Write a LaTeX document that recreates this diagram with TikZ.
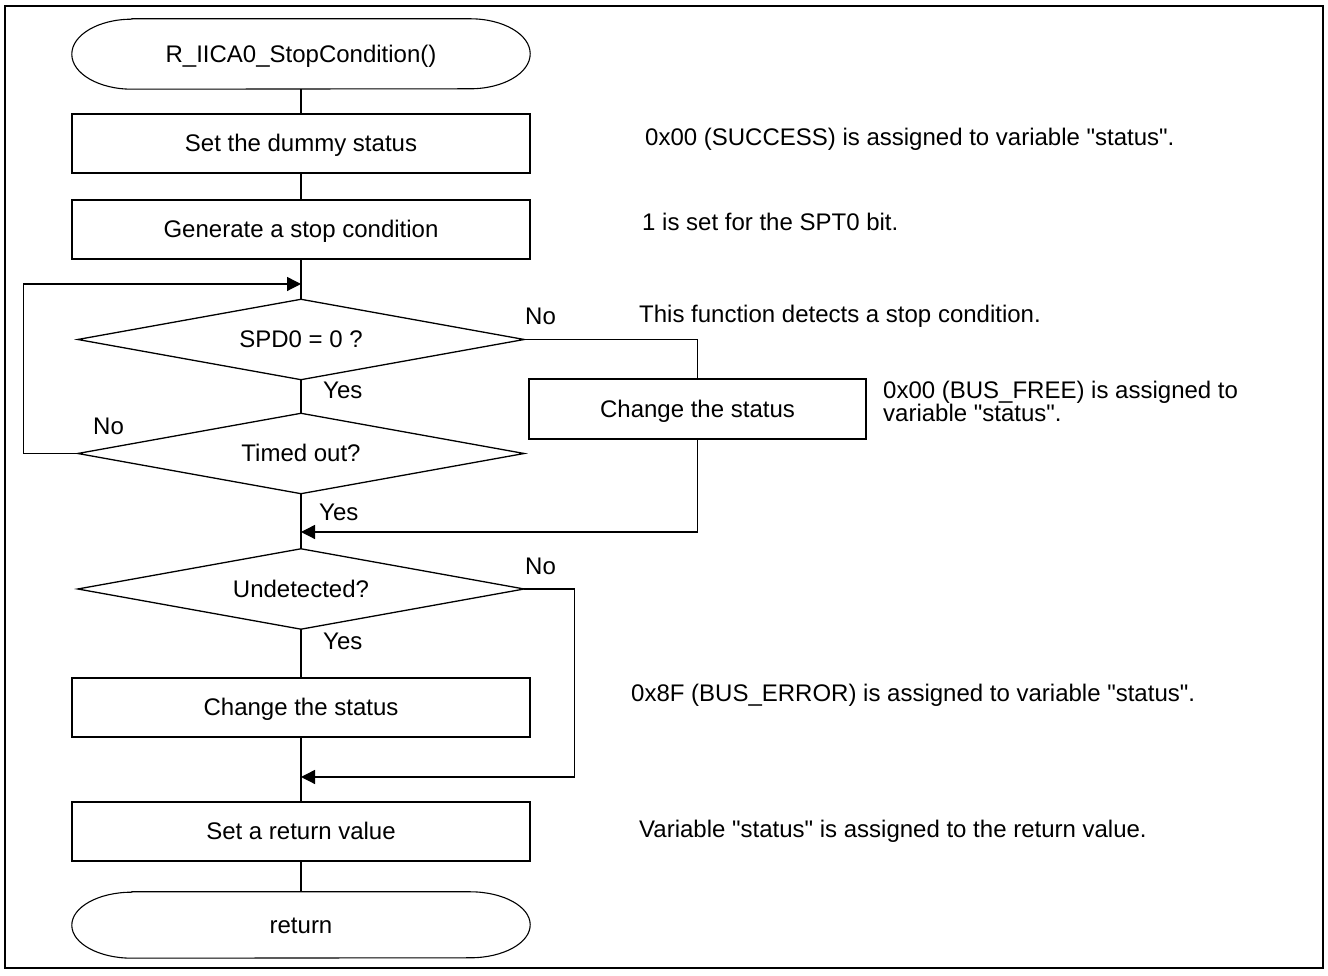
\documentclass[tikz,border=0pt]{standalone}
\usepackage{fontspec}
\setmainfont{Liberation Sans}
\usetikzlibrary{arrows.meta}
\newcommand\termoutline[2]{%
  \draw[line width=1.1pt] ([xshift=60pt]#1.north west) -- ([xshift=-60pt]#1.north east)
    arc[start angle=90,end angle=-90,x radius=60pt,y radius=#2]
    -- ([xshift=60pt]#1.south west)
    arc[start angle=270,end angle=90,x radius=60pt,y radius=#2] -- cycle;}
\newcommand\diamondoutline[1]{%
  \draw[line width=1.3pt] (#1.north) -- (#1.east) -- (#1.south) -- (#1.west) -- cycle;}
\newcommand\qq{\textquotedbl}
\begin{document}
\begin{tikzpicture}[x=1pt,y=1pt,
  every node/.style={font=\fontsize{24}{22}\selectfont},
  proc/.style={draw, line width=1.3pt, minimum width=458pt, minimum height=59pt, inner sep=0pt, text height=17pt, text depth=0pt},
  dec/.style={minimum width=446pt, minimum height=80pt, inner sep=0pt, text height=17pt, text depth=0pt},
  term/.style={minimum width=458pt, inner sep=0pt, text height=17pt, text depth=0pt},
  lbl/.style={anchor=base west, inner sep=0pt},
  conn/.style={line width=1.3pt},
  arr/.style={conn, -{Triangle[length=14pt,width=14pt]}}
]
\useasboundingbox (0,0) rectangle (1328,976);
\draw[line width=2pt] (5,970) rectangle (1323,8);

% main column
\node[term, minimum height=70pt] (start) at (301,922) {R\_IICA0\_StopCondition()};
\termoutline{start}{35pt}
\node[proc] (b1) at (301,832.5) {Set the dummy status};
\node[proc] (b2) at (301,746.5) {Generate a stop condition};
\node[dec] (d1) at (301,636.5) {SPD0 = 0 ?};
\diamondoutline{d1}
\node[dec] (d2) at (301,522.5) {Timed out?};
\diamondoutline{d2}
\node[dec] (d3) at (301,387) {Undetected?};
\diamondoutline{d3}
\node[proc] (b3) at (301,268.5) {Change the status};
\node[proc] (b4) at (301,144.5) {Set a return value};
\node[term, minimum height=66pt] (ret) at (301,51) {return};
\termoutline{ret}{33pt}

\node[proc, minimum width=337pt, minimum height=60pt] (rb) at (697.5,567) {Change the status};

\coordinate (m1) at (301,692);
\coordinate (m2) at (301,444);
\coordinate (m3) at (301,199);

\draw[conn] (start.south) -- (b1.north);
\draw[conn] (b1.south) -- (b2.north);
\draw[conn] (b2.south) -- (d1.north);
\draw[conn] (d1.south) -- (d2.north);
\draw[conn] (d2.south) -- (d3.north);
\draw[conn] (d3.south) -- (b3.north);
\draw[conn] (b3.south) -- (b4.north);
\draw[conn] (b4.south) -- (ret.north);

\draw[arr] (d2.west) -- ++(-54,0) |- (m1);
\draw[conn] (d1.east) -| (rb.north);
\draw[arr] (rb.south) |- (m2);
\draw[arr] (d3.east) -- ++(50,0) |- (m3);

% yes / no labels
\node[lbl] (no1) at (525,651) {No};
\node[lbl] (yes1) at (323,577) {Yes};
\node[lbl] (no2) at (93,541) {No};
\node[lbl] (yes2) at (319,455) {Yes};
\node[lbl] (no3) at (525,401) {No};
\node[lbl] (yes3) at (323,326) {Yes};

% annotations
\node[lbl] (a1) at (645,830) {0x00 (SUCCESS) is assigned to variable \qq status\qq.};
\node[lbl] (a2) at (642,745) {1 is set for the SPT0 bit.};
\node[lbl] (a3) at (639,653) {This function detects a stop condition.};
\node[lbl] (a4a) at (883,577) {0x00 (BUS\_FREE) is assigned to};
\node[lbl] (a4b) at (883,554) {variable \qq status\qq.};
\node[lbl] (a5) at (631,274) {0x8F (BUS\_ERROR) is assigned to variable \qq status\qq.};
\node[lbl] (a6) at (639,138) {Variable \qq status\qq{} is assigned to the return value.};
\end{tikzpicture}
\end{document}
